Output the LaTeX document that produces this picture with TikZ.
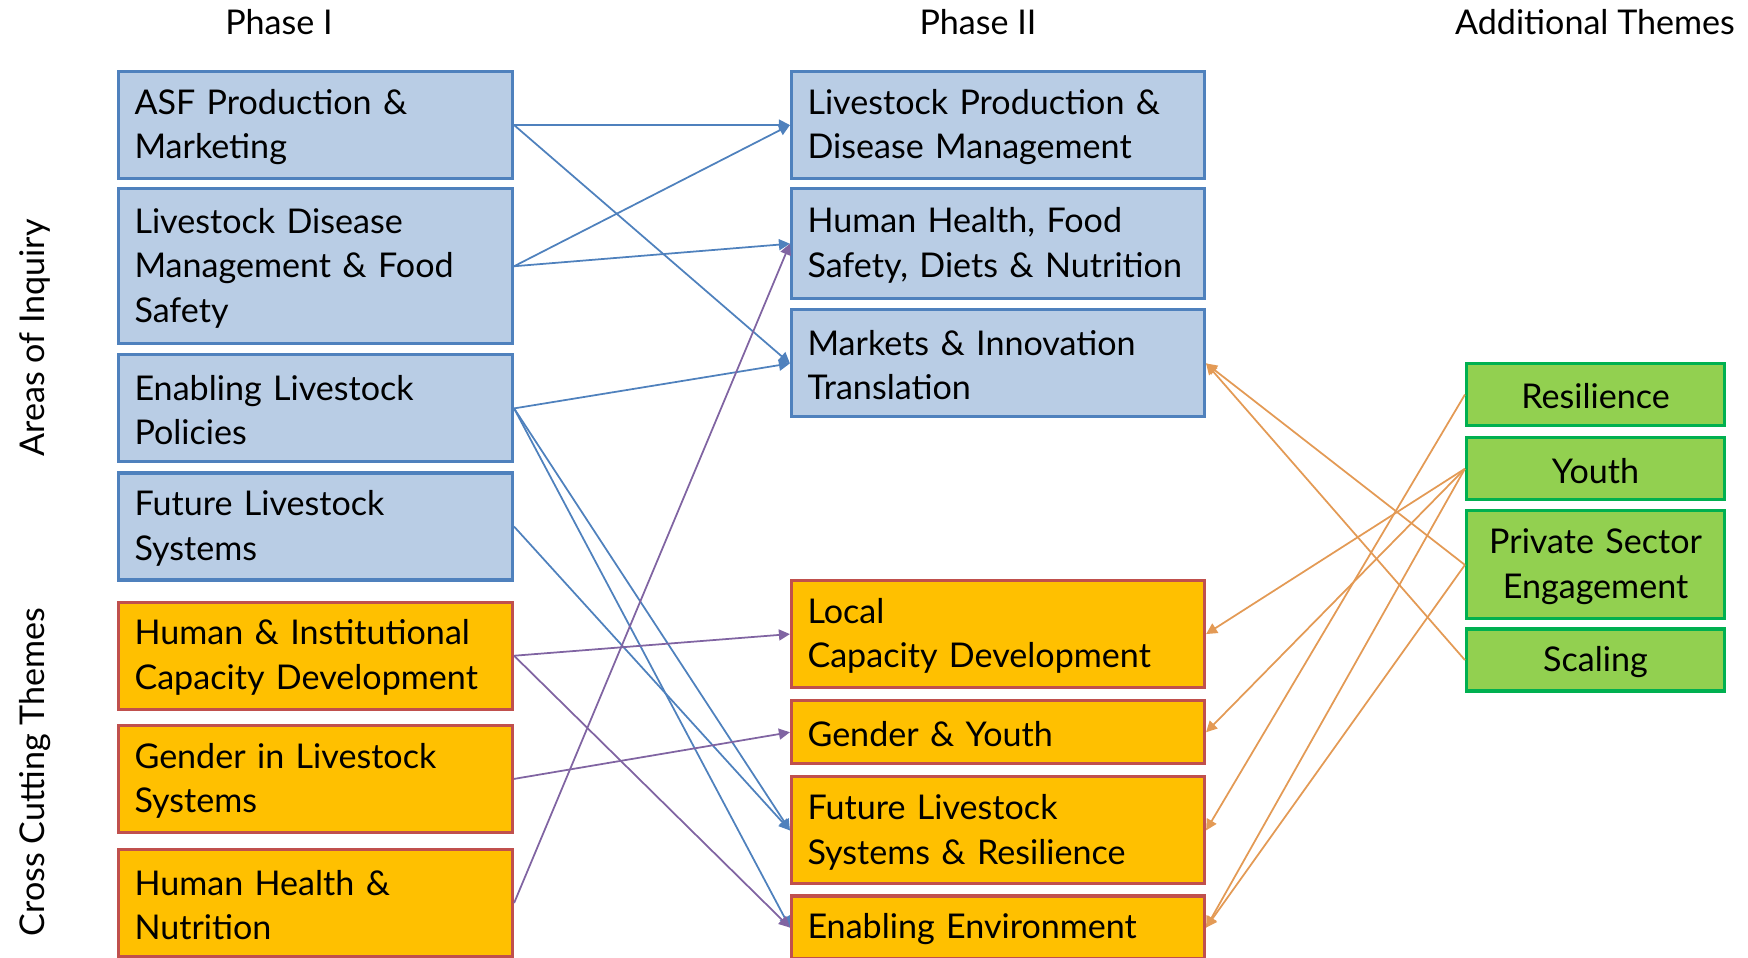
\documentclass[tikz,border=0pt]{standalone}
\usepackage{fontspec}
\setmainfont{Lato}
\usetikzlibrary{positioning,arrows.meta}

\definecolor{areafill}{HTML}{B9CDE5}
\definecolor{areadraw}{HTML}{4F81BD}
\definecolor{crossfill}{HTML}{FFC000}
\definecolor{crossdraw}{HTML}{C0504D}
\definecolor{extrafill}{HTML}{92D050}
\definecolor{extradraw}{HTML}{00B050}
\definecolor{purpleline}{HTML}{8064A2}
\definecolor{orangeline}{HTML}{E39A55}

\begin{document}
\begin{tikzpicture}[x=0.1mm, y=-0.1mm, >={Triangle[length=1.1mm, width=1.1mm]},
    txt/.style = {font=\fontsize{9.7}{12.7}\selectfont},
    box/.style = {txt, draw, line width=0.9pt, inner xsep=1.6mm, inner ysep=0pt,
                  minimum height=10.7mm, align=left, anchor=north,
                  execute at begin node={\rule{0pt}{8.2pt}}},
    area/.style = {box, draw=areadraw, fill=areafill},
    cross/.style = {box, draw=crossdraw, fill=crossfill},
    extra/.style = {box, draw=extradraw, fill=extrafill, align=center,
                    text width=22.6mm, minimum height=6.2mm},
    one/.style = {text width=36.2mm},
    two/.style = {text width=38.1mm},
    link/.style = {line width=0.5pt, ->}]
    \useasboundingbox (0,0) rectangle (1748,958);

    % headings
    \node[txt] (h1) at (279,22) {Phase I};
    \node[txt] (h2) at (978,22) {Phase II};
    \node[txt] (h3) at (1595,22) {Additional Themes};
    \node[txt, rotate=90] (s1) at (35,338) {Areas of Inquiry};
    \node[txt, rotate=90] (s2) at (35,772) {Cross Cutting Themes};

    % phase I
    \node[area, one] (a1) at (315.5,70) {ASF Production \&\\Marketing};
    \node[area, one, minimum height=15.5mm] (a2) [below=0.7mm of a1] {Livestock Disease\\Management \& Food\\Safety};
    \node[area, one] (a3) [below=0.8mm of a2] {Enabling Livestock\\Policies};
    \node[area, one] (a4) [below=0.8mm of a3] {Future Livestock\\Systems};
    \node[cross, one] (a5) [below=1.9mm of a4] {Human \& Institutional\\Capacity Development};
    \node[cross, one] (a6) [below=1.3mm of a5] {Gender in Livestock\\Systems};
    \node[cross, one] (a7) [below=1.4mm of a6] {Human Health \&\\Nutrition};

    % phase II
    \node[area, two] (b1) at (998,70) {Livestock Production \&\\Disease Management};
    \node[area, two, minimum height=11.0mm] (b2) [below=0.7mm of b1] {Human Health, Food\\Safety, Diets \& Nutrition};
    \node[area, two] (b3) [below=0.8mm of b2] {Markets \& Innovation\\Translation};
    \node[cross, two] (b4) at (998,579) {Local\\Capacity Development};
    \node[cross, two, minimum height=6.3mm] (b5) [below=1.0mm of b4] {Gender \& Youth};
    \node[cross, two] (b6) [below=1.0mm of b5] {Future Livestock\\Systems \& Resilience};
    \node[cross, two, minimum height=6.3mm] (b7) [below=0.9mm of b6] {Enabling Environment};

    % additional themes
    \node[extra] (c1) at (1595.5,362) {Resilience};
    \node[extra] (c2) [below=0.9mm of c1] {Youth};
    \node[extra, minimum height=10.8mm] (c3) [below=0.8mm of c2] {Private Sector\\Engagement};
    \node[extra] (c4) [below=0.7mm of c3] {Scaling};

    \draw[link, areadraw] (a1.east) -- (b1.west);
    \draw[link, areadraw] (a1.east) -- (b3.west);
    \draw[link, areadraw] (a2.east) -- (b1.west);
    \draw[link, areadraw] (a2.east) -- (b2.west);
    \draw[link, areadraw] (a3.east) -- (b3.west);
    \draw[link, areadraw] (a3.east) -- (b6.west);
    \draw[link, areadraw] (a3.east) -- (b7.west);
    \draw[link, areadraw] (a4.east) -- (b6.west);

    \draw[link, purpleline] (a5.east) -- (b4.west);
    \draw[link, purpleline] (a5.east) -- (b7.west);
    \draw[link, purpleline] (a6.east) -- (b5.west);
    \draw[link, purpleline] (a7.east) -- (b2.west);

    \draw[link, orangeline] (c1.west) -- (b6.east);
    \draw[link, orangeline] (c2.west) -- (b4.east);
    \draw[link, orangeline] (c2.west) -- (b5.east);
    \draw[link, orangeline] (c2.west) -- (b7.east);
    \draw[link, orangeline] (c3.west) -- (b3.east);
    \draw[link, orangeline] (c3.west) -- (b7.east);
    \draw[link, orangeline] (c4.west) -- (b3.east);

\end{tikzpicture}
\end{document}
